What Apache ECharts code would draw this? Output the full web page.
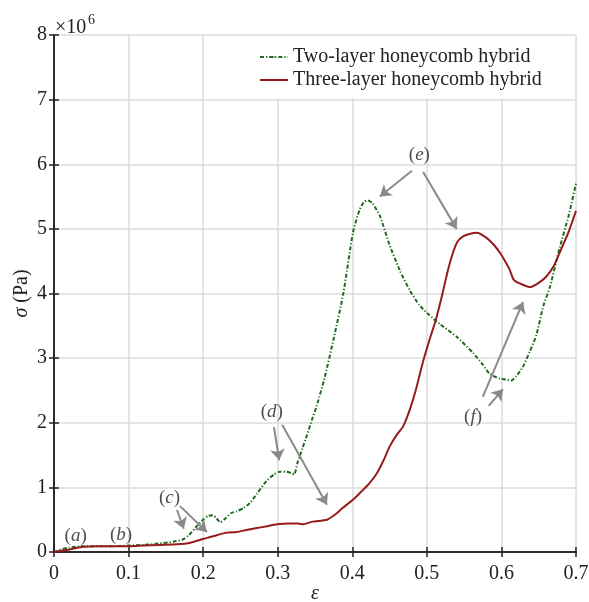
<!DOCTYPE html>
<html lang="en">
<head>
    <meta charset="UTF-8">
    <title>honeycomb hybrid stress-strain</title>
    <script src="https://cdn.jsdelivr.net/npm/echarts@6/dist/echarts.min.js"></script>
    <style>
        html, body { margin: 0; padding: 0; background: #fff; }
        #chart { width: 589px; height: 602px; }
    </style>
</head>
<body>
<div id="chart"></div>
<script>
    // strain values and stress (x 10^6 Pa)
    var epsTwo = [0, 0.01, 0.02, 0.04, 0.06, 0.08, 0.1, 0.12, 0.14, 0.16, 0.172, 0.18, 0.19, 0.2, 0.207, 0.213,
        0.218, 0.223, 0.23, 0.237, 0.245, 0.254, 0.263, 0.272, 0.285, 0.295, 0.303, 0.312, 0.318, 0.322, 0.327,
        0.333, 0.339, 0.346, 0.352, 0.363, 0.375, 0.388, 0.401, 0.41, 0.416, 0.421, 0.427, 0.437, 0.45, 0.464,
        0.477, 0.49, 0.503, 0.517, 0.54, 0.562, 0.575, 0.584, 0.598, 0.606, 0.613, 0.62, 0.629, 0.638, 0.647,
        0.656, 0.665, 0.678, 0.69, 0.7];
    var sigmaTwo = [0, 0.04, 0.07, 0.09, 0.09, 0.09, 0.1, 0.11, 0.13, 0.16, 0.19, 0.25, 0.38, 0.5, 0.56, 0.57,
        0.52, 0.46, 0.52, 0.6, 0.63, 0.68, 0.76, 0.9, 1.1, 1.2, 1.24, 1.24, 1.22, 1.2, 1.4,
        1.6, 1.8, 2.05, 2.25, 2.7, 3.3, 4.0, 4.95, 5.3, 5.42, 5.44, 5.4, 5.2, 4.75, 4.35,
        4.05, 3.82, 3.67, 3.53, 3.33, 3.08, 2.9, 2.76, 2.68, 2.67, 2.65, 2.72, 2.87, 3.1, 3.36,
        3.8, 4.1, 4.7, 5.2, 5.7];

    var epsThree = [0, 0.01, 0.021, 0.039, 0.06, 0.08, 0.1, 0.12, 0.142, 0.165, 0.182, 0.2, 0.218, 0.232, 0.245,
        0.258, 0.272, 0.286, 0.299, 0.316, 0.327, 0.334, 0.347, 0.366, 0.377, 0.387, 0.4, 0.41, 0.422, 0.433,
        0.442, 0.45, 0.46, 0.468, 0.477, 0.485, 0.495, 0.504, 0.512, 0.521, 0.528, 0.535, 0.541, 0.548, 0.557,
        0.567, 0.58, 0.59, 0.598, 0.605, 0.611, 0.616, 0.62, 0.628, 0.638, 0.648, 0.66, 0.67, 0.678, 0.69, 0.7];
    var sigmaThree = [0, 0.02, 0.04, 0.08, 0.09, 0.09, 0.09, 0.1, 0.11, 0.12, 0.14, 0.2, 0.26, 0.3, 0.31,
        0.34, 0.37, 0.4, 0.43, 0.44, 0.44, 0.43, 0.47, 0.5, 0.58, 0.68, 0.8, 0.91, 1.05, 1.22,
        1.42, 1.63, 1.82, 1.94, 2.2, 2.5, 2.95, 3.3, 3.59, 4.0, 4.35, 4.63, 4.8, 4.88, 4.92,
        4.94, 4.86, 4.75, 4.63, 4.5, 4.37, 4.22, 4.18, 4.14, 4.1, 4.15, 4.26, 4.42, 4.63, 4.95, 5.28];

    var seriesNames = ["Two-layer honeycomb hybrid", "Three-layer honeycomb hybrid"];
    var xTicks = [0, 0.1, 0.2, 0.3, 0.4, 0.5, 0.6, 0.7];
    var yTicks = [0, 1, 2, 3, 4, 5, 6, 7, 8];

    // annotation letters and their arrows, in data coordinates
    var noteLabels = [
        [0.029, 0.25, "a"], [0.09, 0.26, "b"], [0.155, 0.84, "c"],
        [0.292, 2.17, "d"], [0.49, 6.15, "e"], [0.562, 2.09, "f"]
    ];
    var noteArrows = [
        [0.165, 0.65, 0.174, 0.36], [0.169, 0.71, 0.205, 0.31],
        [0.295, 1.93, 0.302, 1.42], [0.306, 1.97, 0.366, 0.73],
        [0.48, 5.90, 0.437, 5.50], [0.495, 5.88, 0.54, 5.0],
        [0.575, 2.40, 0.629, 3.87], [0.583, 2.26, 0.602, 2.52]
    ];

    function pairs(xs, ys) {
        return xs.map(function (x, i) { return [x, ys[i]]; });
    }

    var serif = "Liberation Serif";
    var axisCommon = {
        axisLine: { show: true, lineStyle: { color: "#222", width: 1.5 } },
        axisTick: { show: true, inside: true, length: 5, lineStyle: { color: "#222", width: 1.5 } }
    };

    var chart = echarts.init(document.getElementById("chart"));
    var option = {
        animation: false,
        textStyle: { fontFamily: serif },
        grid: { left: 54, right: 13, top: 35, bottom: 50, outerBoundsMode: "none", containLabel: false },
        legend: {
            data: seriesNames,
            orient: "vertical",
            left: 255,
            top: 36,
            padding: [11, 12, 8, 4],
            itemGap: 3,
            itemWidth: 28,
            itemHeight: 2,
            backgroundColor: "#fff",
            textStyle: { fontFamily: serif, fontSize: 20, color: "#222" },
            z: 10
        },
        graphic: [
            { type: "text", left: 55, top: 18, style: { text: "\u00d710", font: "20px " + serif, fill: "#222" } },
            { type: "text", left: 88, top: 13, style: { text: "6", font: "14px " + serif, fill: "#222" } }
        ],
        xAxis: [
            Object.assign({
                type: "value", min: 0, max: 0.7, interval: 0.1,
                name: "\u03b5", nameLocation: "middle", nameGap: 32, nameMoveOverlap: false,
                nameTextStyle: { fontFamily: serif, fontSize: 20, fontStyle: "italic", color: "#222" },
                axisLabel: {
                    fontFamily: serif, fontSize: 20, color: "#222", margin: 12,
                    formatter: function (v) { return String(parseFloat(v.toFixed(1))); }
                },
                splitLine: { show: true, lineStyle: { color: "#dcdcdc", width: 1.5 } }
            }, axisCommon),
            Object.assign({
                type: "value", min: 0, max: 0.7, interval: 0.1, position: "top",
                axisLabel: { show: false }, splitLine: { show: false }
            }, axisCommon)
        ],
        yAxis: [
            Object.assign({
                type: "value", min: 0, max: 8, interval: 1,
                name: "{s|\u03c3} (Pa)", nameLocation: "middle", nameGap: 22, nameRotate: 90,
                nameMoveOverlap: false,
                nameTextStyle: {
                    fontFamily: serif, fontSize: 20, color: "#222",
                    rich: { s: { fontFamily: serif, fontSize: 20, fontStyle: "italic", color: "#222" } }
                },
                axisLabel: { fontFamily: serif, fontSize: 20, color: "#222", margin: 7 },
                splitLine: { show: true, lineStyle: { color: "#dcdcdc", width: 1.5 } }
            }, axisCommon),
            Object.assign({
                type: "value", min: 0, max: 8, interval: 1, position: "right",
                axisLabel: { show: false }, splitLine: { show: false }
            }, axisCommon)
        ],
        series: [
            {
                name: seriesNames[0],
                type: "line",
                data: pairs(epsTwo, sigmaTwo),
                showSymbol: false,
                symbol: "none",
                smooth: 0.2,
                color: "#1f6a1f",
                lineStyle: { color: "#1f6a1f", width: 2, type: [4, 2, 1.2, 2] },
                z: 3
            },
            {
                name: seriesNames[1],
                type: "line",
                data: pairs(epsThree, sigmaThree),
                showSymbol: false,
                symbol: "none",
                smooth: 0.2,
                color: "#961b1b",
                lineStyle: { color: "#961b1b", width: 2 },
                z: 3
            },
            {
                name: "notes",
                type: "scatter",
                data: noteLabels,
                symbolSize: 0,
                silent: true,
                label: {
                    show: true,
                    position: "inside",
                    formatter: function (p) { return "({i|" + p.data[2] + "})"; },
                    fontFamily: serif, fontSize: 19, color: "#222",
                    rich: { i: { fontFamily: serif, fontSize: 19, fontStyle: "italic", color: "#222" } }
                },
                z: 5
            },
            {
                name: "arrows",
                type: "line",
                data: [],
                silent: true,
                markLine: {
                    silent: true,
                    symbol: ["none", "arrow"],
                    symbolSize: 11,
                    label: { show: false },
                    itemStyle: { color: "#8a8a8a" },
                    lineStyle: { color: "#8a8a8a", width: 2, type: "solid" },
                    data: noteArrows.map(function (a) {
                        return [{ coord: [a[0], a[1]] }, { coord: [a[2], a[3]] }];
                    })
                },
                z: 5
            }
        ]
    };
    chart.setOption(option);
</script>
</body>
</html>
